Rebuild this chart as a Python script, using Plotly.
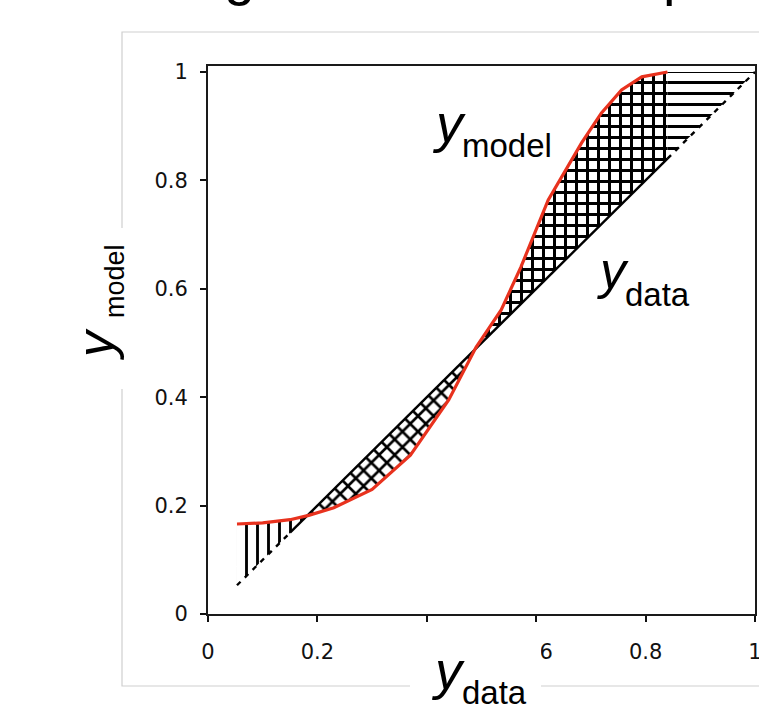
import plotly.graph_objects as go

# ---------------- data ----------------
model_x = [0.053, 0.10, 0.15, 0.184, 0.23, 0.30, 0.37, 0.44, 0.49, 0.536, 0.572, 0.622, 0.683, 0.719, 0.756, 0.793, 0.84]
model_y = [0.166, 0.168, 0.174, 0.182, 0.196, 0.230, 0.293, 0.395, 0.492, 0.561, 0.640, 0.764, 0.869, 0.924, 0.967, 0.991, 1.0]
diag_start = 0.053      # identity line y = x starts here
diag_end = 1.0
solid_from = 0.15       # identity line drawn solid between these
solid_to = 0.84
tick_vals = [0, 0.2, 0.4, 0.6, 0.8, 1.0]
tick_text = ["0", "0.2", "0.4", "0.6", "0.8", "1"]

# ---------------- geometry helpers ----------------
L, T, W, H = 208, 66, 547, 548
FIG_W, FIG_H = 759, 707


def px(xp):
    return (xp - L) / W


def py(yp):
    return 1 - (yp - T) / H


# crossings of model curve with identity line
cross = []
for i in range(len(model_x) - 1):
    d0 = model_y[i] - model_x[i]
    d1 = model_y[i + 1] - model_x[i + 1]
    if d0 * d1 < 0:
        t = d0 / (d0 - d1)
        cross.append(model_x[i] + t * (model_x[i + 1] - model_x[i]))
c1, c2 = cross[0], cross[1]
xe = model_x[-1]


def interp(x):
    for i in range(len(model_x) - 1):
        if model_x[i] <= x <= model_x[i + 1]:
            t = (x - model_x[i]) / (model_x[i + 1] - model_x[i])
            return model_y[i] + t * (model_y[i + 1] - model_y[i])
    return model_y[-1]


def seg(xa, xb):
    xs, ys = [], []
    for i in range(len(model_x)):
        if xa <= model_x[i] <= xb:
            xs.append(model_x[i]); ys.append(model_y[i])
    if not xs or xs[0] > xa:
        xs.insert(0, xa); ys.insert(0, interp(xa))
    if xs[-1] < xb:
        xs.append(xb); ys.append(interp(xb))
    return xs, ys


fig = go.Figure()


def add_region(xs, ys, shape, size, solidity):
    fig.add_trace(go.Scatter(
        x=xs, y=ys, mode="lines", fill="toself",
        line=dict(width=0, color="rgba(0,0,0,0)"),
        fillcolor="white",
        fillpattern=dict(shape=shape, size=size, solidity=solidity,
                         fgcolor="#000000", bgcolor="#ffffff", fgopacity=1,
                         fillmode="replace"),
        hoverinfo="skip", showlegend=False))

# region 1: model above data (low end) -> vertical hatch
x1, y1 = seg(model_x[0], c1)
add_region(x1 + [c1, model_x[0]], y1 + [c1, model_x[0]], "|", 11, 0.26)
# region 2: model below data -> diagonal cross hatch
x2, y2 = seg(c1, c2)
add_region(x2 + [c2, c1], y2 + [c2, c1], "x", 11, 0.42)
# region 3: model above data -> square grid
x3, y3 = seg(c2, xe)
add_region(x3 + [xe, c2], y3 + [xe, c2], "+", 11, 0.47)
# region 4: model capped at 1 -> horizontal hatch
add_region([xe, diag_end, xe], [model_y[-1], diag_end, xe], "-", 11, 0.27)

# identity line
fig.add_trace(go.Scatter(
    x=[diag_start, solid_from, None, solid_to, diag_end],
    y=[diag_start, solid_from, None, solid_to, diag_end],
    mode="lines", line=dict(color="black", width=2.4, dash="5px,6px"),
    hoverinfo="skip", showlegend=False))
fig.add_trace(go.Scatter(
    x=[solid_from, solid_to], y=[solid_from, solid_to],
    mode="lines", line=dict(color="black", width=2.4),
    hoverinfo="skip", showlegend=False))
# model curve
fig.add_trace(go.Scatter(
    x=model_x, y=model_y, mode="lines",
    line=dict(color="#e8321e", width=3.2),
    hoverinfo="skip", showlegend=False))

axis_common = dict(
    tickvals=tick_vals, ticktext=tick_text,
    ticks="outside", ticklen=6, tickwidth=1.5, tickcolor="#111",
    showline=True, linecolor="#1a1a1a", linewidth=2, mirror=True,
    showgrid=False, zeroline=False, automargin=False,
    tickfont=dict(family="DejaVu Sans", size=21, color="#111"),
    ticklabeloverflow="allow",
)

fig.update_layout(
    width=FIG_W, height=FIG_H, autosize=False,
    margin=dict(l=L, r=FIG_W - L - W, t=T, b=FIG_H - T - H, autoexpand=False),
    paper_bgcolor="white", plot_bgcolor="white",
    xaxis=dict(range=[0, 1], ticklabelstandoff=12, **axis_common),
    yaxis=dict(range=[0, 1.011], ticklabelstandoff=8, **axis_common),
    showlegend=False,
)

# outer grey frame and white label boxes
fig.add_shape(type="rect", xref="paper", yref="paper",
              x0=px(122), x1=px(770), y0=py(32), y1=py(686),
              line=dict(color="#cfcfcf", width=1.2), fillcolor="rgba(0,0,0,0)", layer="below")
fig.add_shape(type="rect", xref="paper", yref="paper",
              x0=px(78), x1=px(140), y0=py(228), y1=py(389),
              line=dict(width=0), fillcolor="white", layer="above")
fig.add_shape(type="rect", xref="paper", yref="paper",
              x0=px(410), x1=px(541), y0=py(628), y1=py(712),
              line=dict(width=0), fillcolor="white", layer="above")

SANS = "Liberation Sans"


def ann(text, xp, yp, size, italic=False, xanchor="left", yanchor="middle", angle=0):
    fig.add_annotation(
        text=text, xref="paper", yref="paper", x=px(xp), y=py(yp),
        xanchor=xanchor, yanchor=yanchor, showarrow=False, textangle=angle,
        font=dict(family=SANS, size=size, color="black",
                  style="italic" if italic else "normal"))

# title fragments (cropped at the top)
ann("g", 222, -25, 56)
ann("p", 661, -25, 56)

# in-plot labels
ann("y", 430, 123, 54, italic=True)
ann("model", 460, 145, 33)
ann("y", 595, 270, 52, italic=True)
ann("data", 623, 294, 33)

# x-axis title
ann("y", 429, 670, 54, italic=True)
ann("data", 460, 692, 33)

# y-axis title (rotated)
ann("y", 95, 344, 52, italic=True, xanchor="center", angle=-90)
ann("model", 115, 281, 27, xanchor="center", angle=-90)

fig.write_html("out.html", config={"displayModeBar": False},
               post_script="document.body.style.margin='0px';")
